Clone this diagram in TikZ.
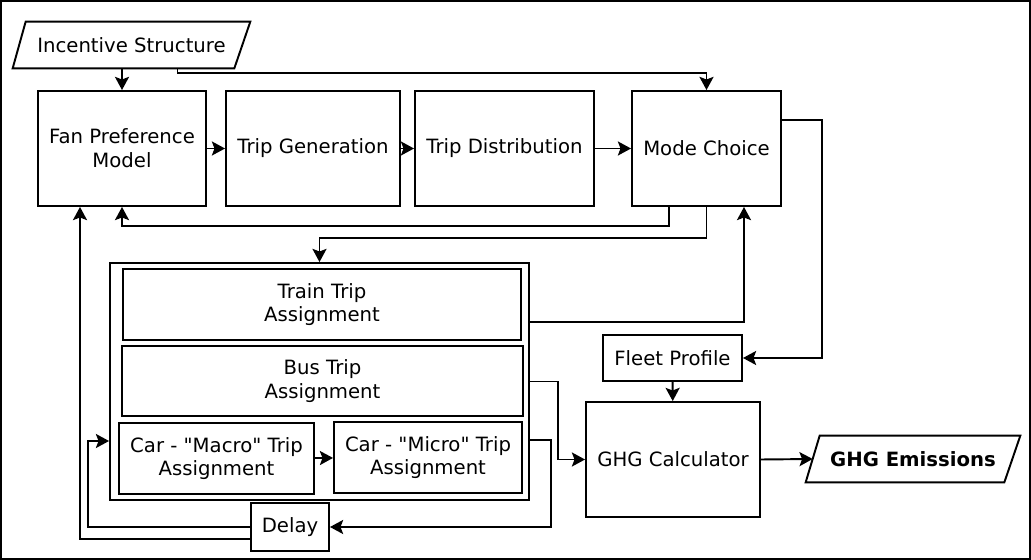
\documentclass[tikz,border=0pt]{standalone}
\usepackage{fontspec}
\setmainfont{DejaVu Sans}
\usetikzlibrary{arrows.meta, calc}

\begin{document}
\begin{tikzpicture}[x=0.02cm, y=-0.02cm,
  box/.style={draw, line width=1.1pt, align=center, inner sep=0pt,
              font=\fontsize{11.2}{13.5}\selectfont},
  io/.style={align=center, inner sep=0pt, minimum height=0.92cm,
             font=\fontsize{11.2}{13.5}\selectfont},
  ioline/.style={line width=1.1pt, line join=miter},
  arr/.style={-{Stealth[length=7.5pt, width=8pt, inset=1.5pt]}, line width=1.1pt},
]
\useasboundingbox (0,0) rectangle (1031,560);
\draw[line width=1.2pt] (1,1) rectangle (1030,559);

% Top row
\node[io, minimum width=4.74cm] (inc) at (131.5,45) {Incentive Structure};
\draw[ioline] (inc.south west) -- ($(inc.north west)+(13,0)$) -- (inc.north east)
  -- ($(inc.south east)+(-16,0)$) -- cycle;
\node[box, minimum width=3.36cm, minimum height=2.3cm] (fan) at (122,148.5)
  {Fan Preference\\Model};
\node[box, minimum width=3.48cm, minimum height=2.3cm] (gen) at (313,148.5)
  {Trip Generation};
\node[box, minimum width=3.58cm, minimum height=2.3cm] (dist) at (504.5,148.5)
  {Trip Distribution};
\node[box, minimum width=2.98cm, minimum height=2.3cm] (mode) at (706.5,148.5)
  {Mode Choice};

% Assignment block
\node[box, minimum width=8.38cm, minimum height=4.74cm] (asg) at (319.5,381.5) {};
\node[box, minimum width=7.96cm, minimum height=1.42cm] (train) at (322,304.5)
  {Train Trip\\Assignment};
\node[box, minimum width=8.02cm, minimum height=1.40cm] (bus) at (322.5,381)
  {Bus Trip\\Assignment};
\node[box, minimum width=3.9cm, minimum height=1.42cm] (macro) at (216.5,458.5)
  {Car - \textquotedbl Macro\textquotedbl{} Trip\\Assignment};
\node[box, minimum width=3.76cm, minimum height=1.42cm] (micro) at (428,457.5)
  {Car - \textquotedbl Micro\textquotedbl{} Trip\\Assignment};
\node[box, minimum width=1.56cm, minimum height=0.96cm] (delay) at (290,527)
  {Delay};

% Emissions side
\node[box, minimum width=2.78cm, minimum height=0.92cm] (fleet) at (672.5,358)
  {Fleet Profile};
\node[box, minimum width=3.48cm, minimum height=2.3cm] (ghg) at (673,459.5)
  {GHG Calculator};
\node[io, minimum width=4.28cm] (emis) at (913,459) {\textbf{GHG Emissions}};
\draw[ioline] (emis.south west) -- ($(emis.north west)+(14,0)$) -- (emis.north east)
  -- ($(emis.south east)+(-16,0)$) -- cycle;

% Arrows
\draw[arr] (fan.north |- inc.south) -- (fan.north);
\draw[arr] ($(inc.south)+(46,0)$) -- ++(0,5) -| (mode.north);
\draw[arr] (fan) -- (gen);
\draw[arr] (gen) -- (dist);
\draw[arr] (dist) -- (mode);
\draw[arr] ($(mode.south)+(-37.5,0)$) -- ++(0,19) -| (fan.south);
\draw[arr] (mode.south) -- ++(0,31) -| (asg.north);
\draw[arr] ($(asg.east)+(0,-59.5)$) -| ($(mode.south)+(37.5,0)$);
\draw[arr] ($(mode.east)+(0,-28.5)$) -- ++(40,0) |- (fleet.east);
\draw[arr] (fleet) -- (ghg);
\draw[arr] (asg.east) -- ++(28,0) |- (ghg.west);
\draw[arr] (macro) -- (micro);
\draw[arr] ($(asg.east)+(0,58.5)$) -- ++(21,0) |- (delay.east);
\draw[arr] (delay.west) -- ++(-162,0) |- ($(asg.west)+(0,59.5)$);
\draw[arr] ($(delay.west)+(0,12)$) -- ++(-171,0) -| ($(fan.south)+(-42,0)$);
\draw[arr] (ghg.east) -- ($(emis.west)+(7,0)$);
\end{tikzpicture}
\end{document}
